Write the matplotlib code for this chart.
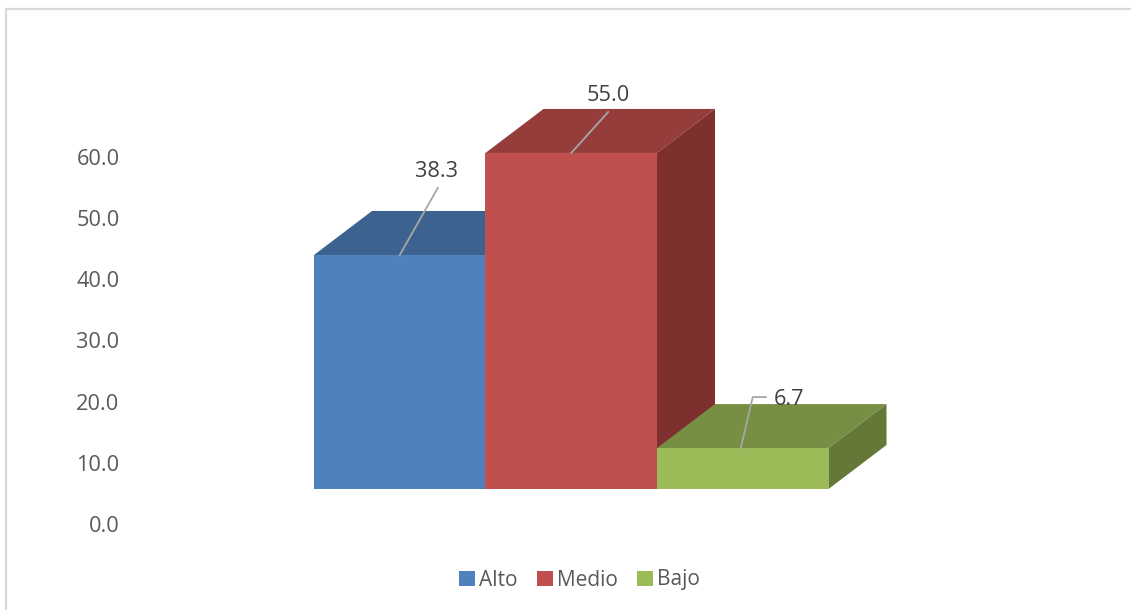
import matplotlib
matplotlib.use("Agg")
import matplotlib.pyplot as plt
from matplotlib.lines import Line2D
from matplotlib.patches import Patch
from matplotlib.transforms import Affine2D

categories = ["Alto", "Medio", "Bajo"]
values = [38.3, 55.0, 6.7]
tick_values = [0, 10, 20, 30, 40, 50, 60]
front_colors = ["#4f81bd", "#c0504d", "#9bbb59"]
top_colors = ["#3c6390", "#943d3b", "#778f45"]
side_colors = ["#34557c", "#7d302e", "#647838"]

W, H = 1131, 610
TEXT = "#595959"
plt.rcParams["font.family"] = ["Open Sans", "DejaVu Sans"]


def fig_rect(x0, x1, y_top, y_bottom):
    """Pixel box (y measured from the top) to figure fractions."""
    return [x0 / W, 1 - y_bottom / H, (x1 - x0) / W, (y_bottom - y_top) / H]


fig = plt.figure(figsize=(W / 100, H / 100), dpi=100)

# chart frame: only the top and left edges show in the crop
fig.add_artist(Line2D([6 / W, 6 / W], [0, 1 - 9 / H], color="#d9d9d9", lw=1.6))
fig.add_artist(Line2D([6 / W, 1], [1 - 9 / H, 1 - 9 / H], color="#d9d9d9", lw=1.6))

# value axis sits lower than the bars, as in the 3D projection
ax_lab = fig.add_axes(fig_rect(125, 300, 157, 524))
ax_lab.set_ylim(0, 60)
ax_lab.set_xticks([])
ax_lab.set_yticks(tick_values)
ax_lab.set_yticklabels([f"{v:.1f}" for v in tick_values], fontsize=15.7, color=TEXT)
ax_lab.tick_params(axis="y", length=0, pad=4)
for s in ax_lab.spines.values():
    s.set_visible(False)
ax_lab.patch.set_alpha(0)

ax = fig.add_axes(fig_rect(314, 828.5, 122.4, 489))
ax.set_xlim(0, 3)
ax.set_ylim(0, 60)
ax.axis("off")

# depth of the 3D box in data units (58 px right, 44 px up)
dx = 58 / (514.5 / 3)
dy = 44 / (366.6 / 60)

for i, v in enumerate(values):
    ax.fill([i, i + 1, i + 1 + dx, i + dx], [v, v, v + dy, v + dy],
            color=top_colors[i], lw=0, clip_on=False, zorder=i + 1)
    ax.fill([i + 1, i + 1 + dx, i + 1 + dx, i + 1], [0, dy, v + dy, v],
            color=side_colors[i], lw=0, clip_on=False, zorder=i + 1)
    ax.bar(i + 0.5, v, width=1, color=front_colors[i], lw=0, clip_on=False,
           zorder=i + 1)

# data labels with leader lines; offsets in pixels from the bar's front top edge
label_offsets = [(37, 83), (37, 57), (46, 49)]
leaders = [[(0, 0), (38, 67)], [(0, 0), (37, 41)], [(-2, 0), (10, 51), (23, 51)]]
for i, v in enumerate(values):
    anchor = ax.transData.transform((i + 0.5, v))
    xs, ys = zip(*leaders[i])
    ax.plot(xs, ys, color="#a6a6a6", lw=1.3, zorder=10, clip_on=False,
            transform=Affine2D().translate(*anchor))
    ax.annotate(f"{v:.1f}", xy=(i + 0.5, v), xytext=label_offsets[i],
                textcoords="offset pixels", ha="center", va="center",
                fontsize=15.7, color="#404040", zorder=11, annotation_clip=False)

handles = [Patch(facecolor=c, label=n, lw=0) for c, n in zip(front_colors, categories)]
fig.legend(handles=handles, ncol=3, loc="center", bbox_to_anchor=(579.5 / W, 1 - 580 / H),
           frameon=False, fontsize=15, labelcolor=TEXT, handlelength=0.75, handleheight=0.75,
           handletextpad=0.2, columnspacing=0.95, borderpad=0)

fig.savefig("out.png", dpi=100)
